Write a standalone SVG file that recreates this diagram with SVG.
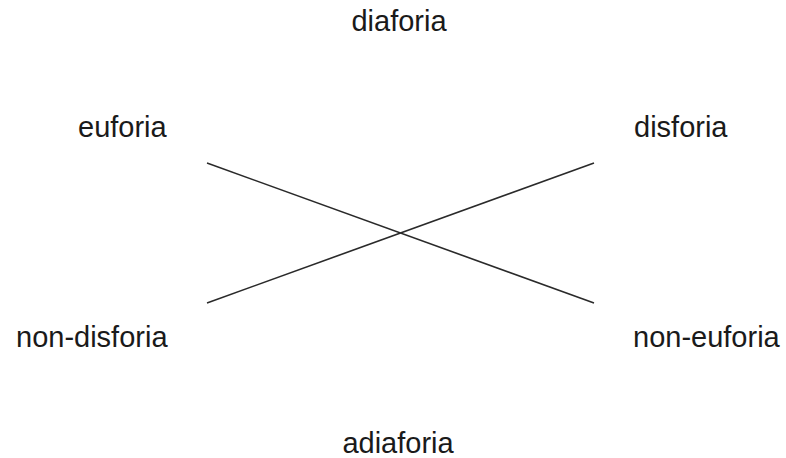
<svg xmlns="http://www.w3.org/2000/svg" width="786" height="458" viewBox="0 0 786 458">
<style>
.lbl{font-family:"Liberation Sans",Arial,sans-serif;font-size:29px;fill:#1a1a1a}
.edge{stroke:#2a2a2a;stroke-width:1.6;fill:none}
</style>
<rect width="786" height="458" fill="#ffffff"/>
<g id="connectors">
<line class="edge" x1="207" y1="163" x2="594" y2="303"/>
<line class="edge" x1="207" y1="303" x2="594" y2="163"/>
</g>
<g id="diaforia"><text class="lbl" x="399" y="31" text-anchor="middle">diaforia</text></g>
<g id="euforia"><text class="lbl" x="78" y="137">euforia</text></g>
<g id="disforia"><text class="lbl" x="634" y="137">disforia</text></g>
<g id="non-disforia"><text class="lbl" x="16" y="347">non-disforia</text></g>
<g id="non-euforia"><text class="lbl" x="633" y="347">non-euforia</text></g>
<g id="adiaforia"><text class="lbl" x="398" y="453" text-anchor="middle">adiaforia</text></g>
</svg>
